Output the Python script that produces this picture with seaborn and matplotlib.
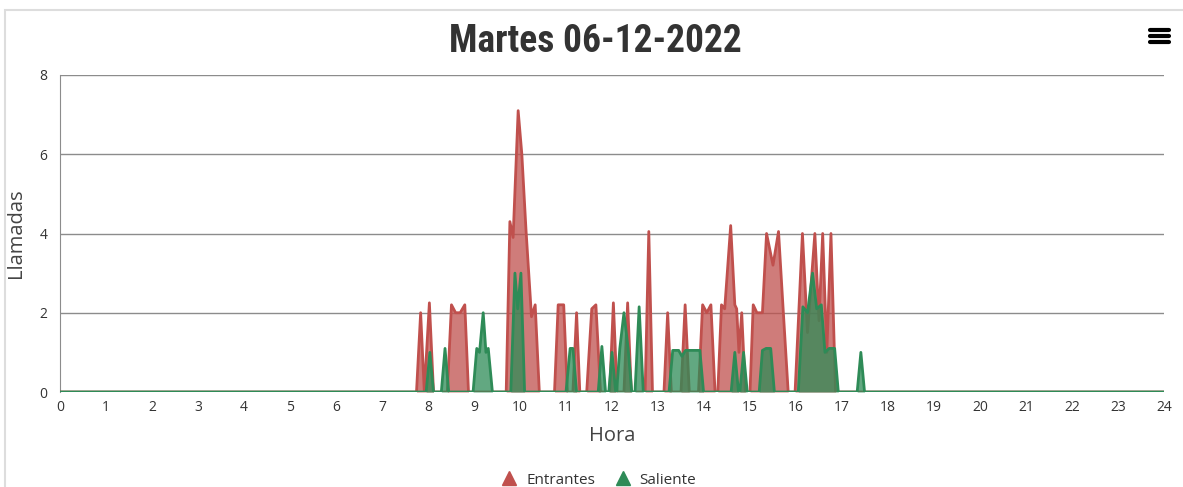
import numpy as np
import pandas as pd
import matplotlib
matplotlib.use("Agg")
import matplotlib.pyplot as plt
from matplotlib.patches import Rectangle
from matplotlib.lines import Line2D
import seaborn as sns

# Llamadas entrantes (hora decimal, cantidad)
ent_hours = [0, 7.75, 7.84, 7.92, 8.03, 8.12,
             8.42, 8.51, 8.60, 8.70, 8.80, 8.88,
             9.70, 9.78, 9.85, 9.96, 10.04, 10.13, 10.25, 10.33, 10.42,
             10.75, 10.83, 10.95, 11.03, 11.15, 11.23, 11.30,
             11.45, 11.56, 11.65, 11.75, 11.95, 12.03, 12.11, 12.26, 12.34, 12.42,
             12.72, 12.80, 12.88, 13.13, 13.21, 13.29, 13.50, 13.59, 13.68,
             13.88, 13.97, 14.06, 14.15, 14.24,
             14.30, 14.38, 14.45, 14.58, 14.67, 14.71, 14.76, 14.82, 14.90,
             15.00, 15.07, 15.15, 15.27, 15.36, 15.50, 15.62, 15.72, 15.83,
             15.98, 16.14, 16.25, 16.41, 16.50, 16.58, 16.67, 16.76, 16.86, 24]
ent_values = [0, 0, 2.0, 0, 2.25, 0,
              0, 2.2, 2.0, 2.0, 2.2, 0,
              0, 4.3, 3.9, 7.1, 6.0, 4.1, 1.9, 2.2, 0,
              0, 2.2, 2.2, 0, 0, 2.0, 0,
              0, 2.1, 2.2, 0, 0, 2.25, 0, 0, 2.25, 0,
              0, 4.05, 0, 0, 2.0, 0, 0, 2.2, 0,
              0, 2.2, 2.0, 2.2, 0,
              0, 2.2, 2.1, 4.2, 2.2, 2.1, 1.0, 2.0, 0,
              0, 2.2, 2.0, 2.0, 4.0, 3.2, 4.05, 2.1, 0,
              0, 4.0, 1.5, 4.0, 1.8, 4.0, 1.0, 4.0, 0, 0]

# Llamadas salientes
sal_hours = [0, 7.96, 8.04, 8.12, 8.29, 8.37, 8.45,
             8.98, 9.06, 9.12, 9.20, 9.26, 9.31, 9.40,
             9.80, 9.89, 9.95, 10.02, 10.10,
             11.00, 11.09, 11.15, 11.23,
             11.70, 11.78, 11.86, 11.93, 12.00, 12.08, 12.10, 12.17, 12.26, 12.35, 12.43,
             12.50, 12.59, 12.68,
             13.24, 13.32, 13.45, 13.52, 13.60, 13.91, 13.99,
             14.59, 14.67, 14.75, 14.78, 14.86, 14.94,
             15.20, 15.27, 15.35, 15.45, 15.53,
             16.05, 16.15, 16.25, 16.36, 16.45, 16.55, 16.63, 16.72, 16.84, 16.92,
             17.33, 17.41, 17.49, 24]
sal_values = [0, 0, 1.0, 0, 0, 1.1, 0,
              0, 1.1, 1.0, 2.0, 1.0, 1.1, 0,
              0, 3.0, 2.1, 3.0, 0,
              0, 1.1, 1.1, 0,
              0, 1.15, 0, 0, 1.0, 0, 0, 1.1, 2.0, 1.1, 0,
              0, 2.15, 0,
              0, 1.05, 1.05, 0.9, 1.05, 1.05, 0,
              0, 1.0, 0, 0, 1.0, 0,
              0, 1.05, 1.1, 1.1, 0,
              0, 2.15, 2.0, 3.0, 2.1, 2.2, 1.0, 1.1, 1.1, 0,
              0, 1.0, 0, 0]

red = "#c0504d"
green = "#2e8b57"

sns.set_style("white")
plt.rcParams['font.family'] = ['Open Sans', 'DejaVu Sans']

fig = plt.figure(figsize=(11.83, 4.87), dpi=100)
ax = fig.add_axes([60 / 1183, 1 - 392 / 487, 1104 / 1183, 317 / 487])

ent = pd.DataFrame({"hora": ent_hours, "llamadas": ent_values})
sal = pd.DataFrame({"hora": sal_hours, "llamadas": sal_values})

ax.fill_between(ent["hora"], ent["llamadas"], color=red, alpha=0.75, lw=0, zorder=2)
sns.lineplot(data=ent, x="hora", y="llamadas", color=red, lw=2, ax=ax, zorder=3)
ax.fill_between(sal["hora"], sal["llamadas"], color=green, alpha=0.75, lw=0, zorder=4)
sns.lineplot(data=sal, x="hora", y="llamadas", color=green, lw=2, ax=ax, zorder=5)

ax.set_xlim(0, 24)
ax.set_ylim(0, 8)
ax.set_xticks(range(0, 25))
ax.set_yticks([0, 2, 4, 6, 8])
ax.yaxis.grid(True, color="#8c8c8c", lw=1)
ax.set_axisbelow(True)
for s in ["top", "right", "bottom"]:
    ax.spines[s].set_visible(False)
ax.spines["left"].set_color("#8c8c8c")
ax.tick_params(axis="both", length=5, width=1, color="#8c8c8c",
               labelsize=10, labelcolor="#333333", pad=1)
ax.tick_params(axis="y", pad=4)
ax.set_xlabel("Hora", fontsize=14.5, color="#444444", labelpad=8)
ax.set_ylabel("Llamadas", fontsize=14.5, color="#444444", labelpad=10)

fig.text(0.503, 1 - 42 / 487, "Martes 06-12-2022", ha="center", va="center",
         fontsize=27, fontweight="bold", color="#333333",
         family=["Roboto Condensed", "Roboto", "DejaVu Sans"])

# menu icon
for yy in [30, 36, 42]:
    fig.add_artist(Line2D([1150 / 1183, 1169 / 1183], [1 - yy / 487] * 2,
                          color="black", lw=3))

# chart frame
fig.add_artist(Rectangle((5 / 1183, -0.1), 1.2, 1 - 10 / 487 + 0.1,
                         transform=fig.transFigure, fill=False,
                         ec="#dddddd", lw=1.5))

handles = [Line2D([], [], marker="^", ls="", color=red, markersize=10),
           Line2D([], [], marker="^", ls="", color=green, markersize=10)]
fig.legend(handles, ["Entrantes", "Saliente"], loc="center",
           bbox_to_anchor=(0.503, 1 - 480 / 487), ncol=2, frameon=False,
           fontsize=11, handletextpad=0.1, columnspacing=0.8,
           labelcolor="#333333")

fig.savefig("out.png", dpi=100)
